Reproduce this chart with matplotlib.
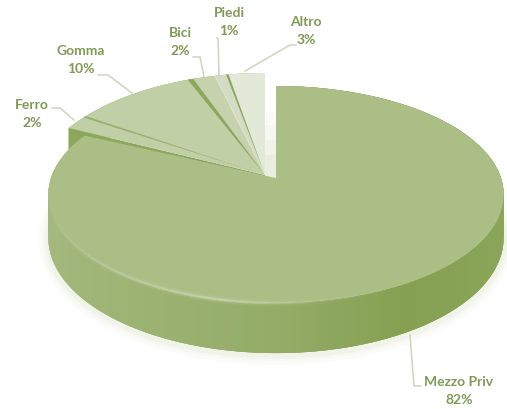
import numpy as np
import matplotlib
matplotlib.use("Agg")
import matplotlib.pyplot as plt
from matplotlib.collections import LineCollection
from matplotlib.colors import to_rgb

labels = ["Mezzo Priv", "Ferro", "Gomma", "Bici", "Piedi", "Altro"]
shares = [82, 2, 10, 2, 1, 3]

top_colors = ["#abbe86", "#c1cfa6", "#c1cfa6", "#c6d2ae", "#d3dcc3", "#e3e9d9"]
text_color = "#7f9a55"
leader_color = "#cdd6bb"
wall_dark = "#8ca65c"

PERSP = 0.152
DEPTH = 42.5


def project(theta, cx, cy, rx, b, t=0.0):
    # theta runs clockwise from 12 o'clock; a ground-plane circle seen in perspective
    u = np.sin(theta)
    v = -np.cos(theta)
    w = 1 - PERSP * v
    return cx + rx * u / w, cy + (b * v + t) / w


def wedge(a0, a1, cx, cy, rx, b, t=0.0, n=80):
    th = np.linspace(a0, a1, n)
    x, y = project(th, cx, cy, rx, b, t)
    return np.r_[cx, x], np.r_[cy + t, y]


def wall_color(u):
    stops = [-1, 0, 0.5, 1]
    cols = np.array([to_rgb(c) for c in ["#a4b97e", "#94ac68", "#86a052", "#8ba55a"]])
    return [np.interp(u, stops, cols[:, i]) for i in range(3)]


edges = np.radians(np.r_[0, np.cumsum(shares)] * 3.6)

fig = plt.figure(figsize=(5.07, 4.09), dpi=100)
ax = fig.add_axes([0, 0, 1, 1])
ax.set_xlim(0, 507)
ax.set_ylim(409, 0)
ax.axis("off")

MAIN = (276.0, 178.0, 225.0, 106.0)
OUT = (265.0, 175.0, 231.0, 117.5)

# soft shadow under the main slice
th = np.linspace(np.radians(60), np.radians(280), 200)
sx, sy = project(th, *MAIN, DEPTH)
for lw, al in [(14, 0.10), (9, 0.16), (5, 0.25)]:
    ax.plot(sx, sy + 2, color="#dfe7cd", lw=lw, alpha=al, solid_capstyle="round", zorder=1)

# pale face left open behind the pulled-out slices
for top, al in [(112, 0.15), (125, 0.2), (140, 0.3), (155, 0.5)]:
    ax.fill([265, 277, 277, 265], [top, top, 178, 175], color="#e4eada", alpha=al, lw=0, zorder=1)

# pulled-out slices: outer wall, radial wall, then top faces
for i in range(1, len(shares)):
    a0, a1 = edges[i], edges[i + 1]
    th = np.linspace(a0, a1, 30)
    x0, y0 = project(th, *OUT)
    x1, y1 = project(th, *OUT, DEPTH * 0.9)
    ax.fill(np.r_[x0, x1[::-1]], np.r_[y0, y1[::-1]], color=wall_dark, lw=0, zorder=2)

x0, y0 = project(edges[1], *OUT)
x1, y1 = project(edges[1], *OUT, DEPTH * 0.9)
ax.fill([OUT[0], x0, x1, OUT[0]], [OUT[1], y0, y1, OUT[1] + DEPTH * 0.5],
        color=wall_dark, lw=0, zorder=2)

for i in range(1, len(shares)):
    wx, wy = wedge(edges[i], edges[i + 1], *OUT)
    ax.fill(wx, wy, color=top_colors[i], lw=0, zorder=3)

# dark seams between neighbouring slices
seams = {2: 0.008, 3: 0.014, 4: 0.002, 5: 0.006}
seam_cols = {2: "#97ae6c", 3: "#8ca65c", 4: "#eef1e7", 5: "#8ca65c"}
for i, half in seams.items():
    wx, wy = wedge(edges[i] - half, edges[i] + half, *OUT, n=6)
    ax.fill(wx, wy, color=seam_cols[i], lw=0, zorder=4)

# main slice wall, built from overlapping strips so the shading runs along the rim
th = np.linspace(edges[0], edges[1], 260)
xt, yt = project(th, *MAIN)
xb, yb = project(th, *MAIN, DEPTH)
for k in range(len(th) - 3):
    c = wall_color(np.sin(th[k]))
    ax.fill([xt[k], xt[k + 3], xb[k + 3], xb[k]], [yt[k], yt[k + 3], yb[k + 3], yb[k]],
            color=c, lw=0, zorder=5)

wx, wy = wedge(edges[0], edges[1], *MAIN, n=260)
ax.fill(wx, wy, color=top_colors[0], lw=0, zorder=6)

# bevel highlight on the front rim
pts = np.column_stack([xt, yt]).reshape(-1, 1, 2)
segs = np.concatenate([pts[:-1], pts[1:]], axis=1)
rim_u = np.sin(th[:-1])
rim_v = -np.cos(th[:-1])
rim_alpha = np.interp(rim_u, [-1, -0.7, -0.2, 0.15, 0.45], [0.0, 0.35, 0.8, 0.2, 0.0]) * (rim_v > 0)
rgba = np.tile(to_rgb("#c9d6b0"), (len(segs), 1))
ax.add_collection(LineCollection(segs, colors=np.c_[rgba, rim_alpha], linewidths=1.8,
                                 capstyle="butt", zorder=7))
ax.add_collection(LineCollection(segs, colors=np.c_[rgba, rim_alpha * 0.25], linewidths=4.5,
                                 capstyle="butt", zorder=7))

# leader lines
leaders = [
    ([410, 414, 421], [335, 386, 386]),
    ([52, 60, 74], [108, 108, 120]),
    ([98, 108, 132], [75, 75, 93]),
    ([193, 200, 204], [57, 57, 77]),
    ([217, 218, 219], [38, 38, 75]),
    ([245, 290, 296], [71, 45, 45]),
]
for lx, ly in leaders:
    ax.plot(lx, ly, color=leader_color, lw=1.1, zorder=8)

label_xy = [(459, 391), (32, 114), (81, 60), (180, 42), (229, 22), (306, 31)]
for name, val, (tx, ty) in zip(labels, shares, label_xy):
    ax.text(tx, ty, f"{name}\n{val}%", ha="center", va="center", color=text_color,
            family="Lato", weight="bold", fontsize=10, linespacing=1.65, zorder=9)

fig.savefig("out.png", dpi=100)
plt.close(fig)
